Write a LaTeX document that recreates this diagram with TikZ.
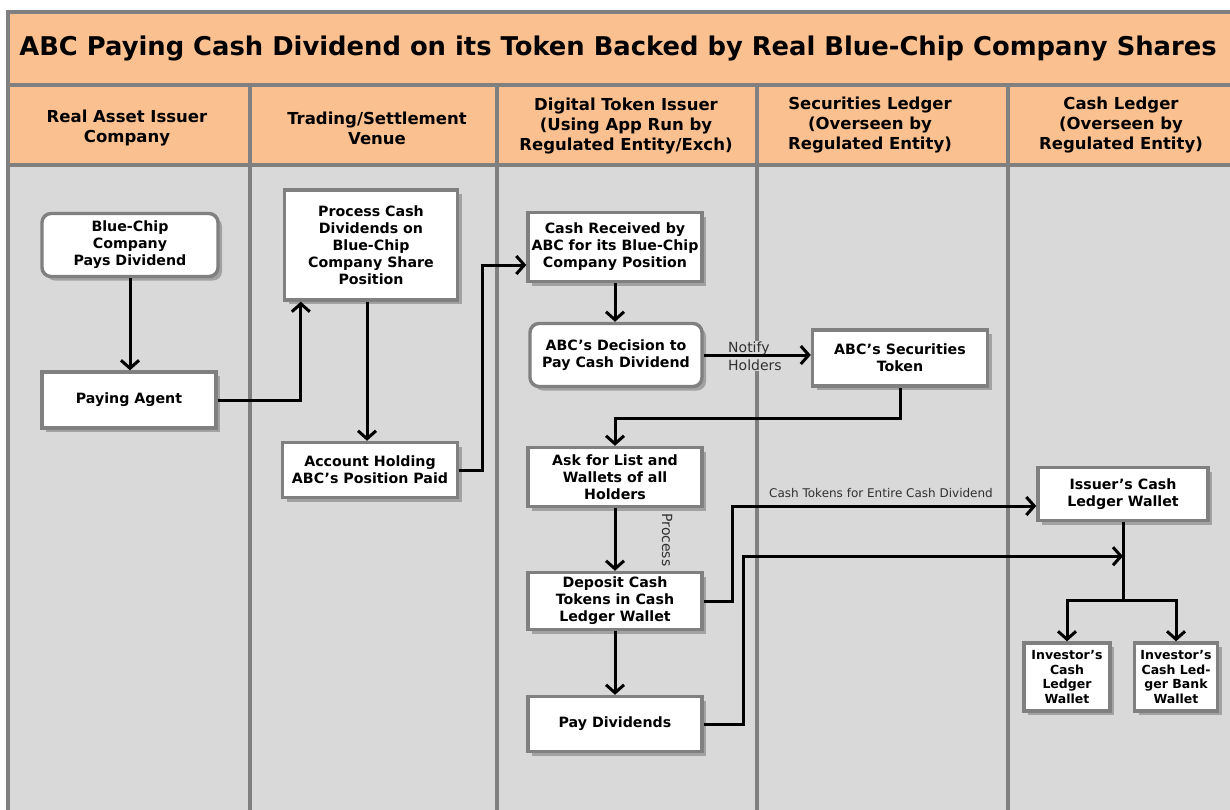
\documentclass[tikz,border=0pt]{standalone}
\usepackage{fontspec}
\setmainfont{DejaVu Sans}
\usepackage{tikz}
\usetikzlibrary{shapes}
\usetikzlibrary{arrows.meta}
\usetikzlibrary{shadows}
\definecolor{headpeach}{HTML}{FAC090}
\definecolor{lanegray}{HTML}{D9D9D9}
\definecolor{linegray}{HTML}{808080}
\definecolor{labelgray}{HTML}{303030}
\tikzset{
	flownode/.style = {
		align=center,
		inner sep=0pt,
		text centered,
		font=\bfseries\fontsize{14.2}{17}\selectfont,
		draw=linegray,
		line width=3.4pt,
		fill=white,
		drop shadow={shadow xshift=4pt, shadow yshift=-4pt, opacity=0.25, fill=black}
	},
	node_box/.style = {
		flownode,
		rectangle,
		minimum width=174pt,
		minimum height=56pt
	},
	node_round/.style = {
		node_box,
		rounded corners=9pt,
		minimum height=63pt
	},
	node_small/.style = {
		flownode,
		rectangle,
		font=\bfseries\fontsize{12.5}{14.5}\selectfont,
		minimum height=68pt
	},
	node_head/.style = {
		align=center,
		font=\bfseries\fontsize{16.5}{20}\selectfont
	},
	node_title/.style = {
		font=\bfseries\fontsize{25.8}{30}\selectfont
	},
	node_lbl/.style = {
		align=left,
		inner sep=1pt,
		text=labelgray,
		font=\fontsize{14}{18}\selectfont
	},
	node_note/.style = {
		node_lbl,
		font=\fontsize{12}{14}\selectfont
	},
	frameline/.style = {
		draw=linegray,
		line width=3.5pt
	},
	flow/.style = {
		->,
		line width=3pt
	}
}

\begin{document}
\begin{tikzpicture}[x=1pt, y=-1pt, >={Straight Barb[length=8pt,width=18pt]}]
\useasboundingbox (0,0) rectangle (1230,809);
\clip (0,0) rectangle (1230,809);

% swimlane frame
\fill [lanegray] (8,165) rectangle (1245,820);
\fill [headpeach] (8,12) rectangle (1245,165);
\draw [frameline] (1245,12) -- (8,12) -- (8,820);
\draw [frameline] (8,85) -- (1245,85);
\draw [frameline] (8,165) -- (1245,165);
\draw [frameline] (250,85) -- (250,820);
\draw [frameline] (497,85) -- (497,820);
\draw [frameline] (757,85) -- (757,820);
\draw [frameline] (1008,85) -- (1008,820);

\node [node_title] (title) at (618,48) {ABC Paying Cash Dividend on its Token Backed by Real Blue-Chip Company Shares};
\node [node_head] (h_issuer) at (127,128) {Real Asset Issuer\\Company};
\node [node_head] (h_venue) at (377,128) {Trading/Settlement\\Venue};
\node [node_head] (h_token) at (626,126) {Digital Token Issuer\\(Using App Run by\\Regulated Entity/Exch)};
\node [node_head] (h_sec) at (870,125) {Securities Ledger\\(Overseen by\\Regulated Entity)};
\node [node_head] (h_cash) at (1121,125) {Cash Ledger\\(Overseen by\\Regulated Entity)};

% steps
\node [node_round, minimum width=176pt] (bluechip) at (130,245) {Blue-Chip\\Company\\Pays Dividend};
\node [node_box] (paying) at (129,400) {Paying Agent};
\node [node_box, minimum width=173pt, minimum height=110pt] (process) at (371,245) {Process Cash\\Dividends on\\Blue-Chip\\Company Share\\Position};
\node [node_box, minimum width=175pt, minimum height=55pt] (account) at (370,470) {Account Holding\\ABC’s Position Paid};
\node [node_box, minimum height=69pt] (cashrec) at (615,247) {Cash Received by\\ABC for its Blue-Chip\\Company Position};
\node [node_round, minimum width=172pt] (decision) at (616,355) {ABC’s Decision to\\Pay Cash Dividend};
\node [node_box, minimum width=175pt] (sectoken) at (900,358) {ABC’s Securities\\Token};
\node [node_box, minimum height=59pt] (asklist) at (615,477) {Ask for List and\\Wallets of all\\Holders};
\node [node_box, minimum height=57pt] (deposit) at (615,601) {Deposit Cash\\Tokens in Cash\\Ledger Wallet};
\node [node_box, minimum height=55pt] (paydiv) at (615,724) {Pay Dividends};
\node [node_box, minimum width=170pt, minimum height=53pt] (issuer) at (1123,494) {Issuer’s Cash\\Ledger Wallet};
\node [node_small, minimum width=86pt] (inv_cash) at (1067,677) {Investor’s\\Cash\\Ledger\\Wallet};
\node [node_small, minimum width=83pt] (inv_bank) at (1176,677) {Investor’s\\Cash Led-\\ger Bank\\Wallet};

\coordinate (join) at ([yshift=-34pt]issuer.south);
\coordinate (fork) at ([yshift=-78pt]issuer.south);

% labels
\node [node_lbl, anchor=west, fill=lanegray] (notify) at (727,356) {Notify\\Holders};
\node [node_lbl, rotate=-90] (proc_lbl) at (667,540) {Process};
\node [node_note] (cash_lbl) at (881,493) {Cash Tokens for Entire Cash Dividend};

% connectors
\draw [flow] (bluechip.south) -- (bluechip.south |- paying.north);
\draw [flow] (paying.east) -| ([xshift=18pt]process.south west);
\draw [flow] ([xshift=-4pt]process.south) -- ([xshift=-4pt]process.south |- account.north);
\draw [flow] (account.east) -- ++(23,0) |- ([yshift=-18pt]cashrec.west);
\draw [flow] (cashrec.south) -- (cashrec.south |- decision.north);
\draw [flow] (decision.east) -- (decision.east -| sectoken.west);
\draw [flow] (sectoken.south) -- ++(0,31) -| (asklist.north);
\draw [flow] (asklist.south) -- (deposit.north);
\draw [flow] (deposit.south) -- (paydiv.north);
\draw [flow] (deposit.east) -- ++(29,0) |- ([yshift=-12pt]issuer.west);
\draw [flow] (paydiv.east) -- ++(40,0) |- (join);
\draw [line width=3pt] (issuer.south) -- (fork);
\draw [flow] (fork) -| (inv_cash.north);
\draw [flow] (fork) -| (inv_bank.north);
\end{tikzpicture}
\end{document}
